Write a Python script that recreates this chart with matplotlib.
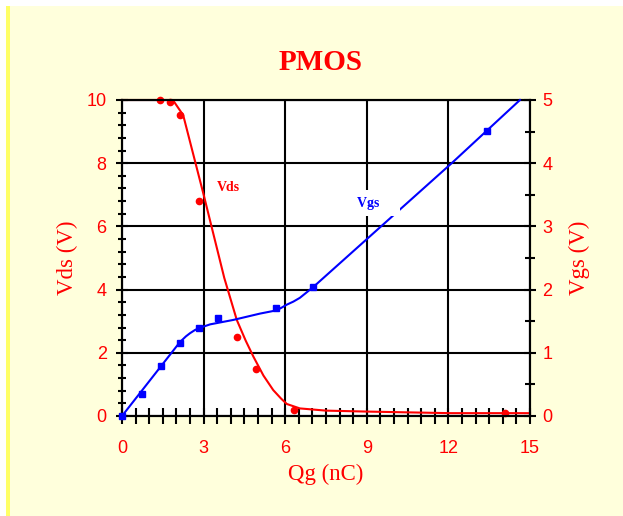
import matplotlib
matplotlib.use("Agg")
import matplotlib.pyplot as plt
from matplotlib.patches import Rectangle
from matplotlib.ticker import MultipleLocator

# ---- data ----
qg_vds_pts = [1.40, 1.76, 2.13, 2.83, 4.22, 4.91, 6.34, 14.08]
vds_pts = [10.0, 9.94, 9.52, 6.80, 2.49, 1.49, 0.19, 0.09]

qg_vgs_pts = [0.0, 0.72, 1.42, 2.13, 2.83, 3.52, 5.66, 7.03, 13.41]
vgs_pts = [0.0, 0.35, 0.79, 1.16, 1.39, 1.55, 1.71, 2.04, 4.51]

qg_vds_fit = [0, 1.87, 2.25, 3.02, 3.76, 4.22, 4.55, 4.83, 5.2, 5.56, 5.85, 6.06, 6.54, 7.5, 9.0, 12.06, 15]
vds_fit = [10, 10, 9.52, 6.94, 4.37, 3.04, 2.38, 1.88, 1.28, 0.82, 0.55, 0.38, 0.24, 0.17, 0.14, 0.09, 0.09]

qg_vgs_fit = [0, 2.13, 2.35, 2.5, 2.68, 2.83, 3.24, 4.09, 5.07, 5.66, 5.85, 6.05, 6.3, 6.54, 7.03, 12.12, 14.63]
vgs_fit = [0, 1.17, 1.26, 1.31, 1.36, 1.39, 1.45, 1.52, 1.62, 1.67, 1.71, 1.76, 1.81, 1.87, 2.04, 4.0, 5.0]

x_ticks = [0, 3, 6, 9, 12, 15]
vds_ticks = [0, 2, 4, 6, 8, 10]
vgs_ticks = [0, 1, 2, 3, 4, 5]

RED = "#FF0000"
BLUE = "#0000FF"
SANS = "Liberation Sans"
SERIF = "Liberation Serif"

W, H = 623, 516
fig = plt.figure(figsize=(W / 100, H / 100), dpi=100, facecolor="white")

# background panel
fig.patches.append(Rectangle((6 / W, 0), 1 - 6 / W, 1 - 6 / H, transform=fig.transFigure,
                             facecolor="#FFFFDC", edgecolor="none", zorder=-10))
fig.patches.append(Rectangle((6 / W, 0), 3.5 / W, 1 - 6 / H, transform=fig.transFigure,
                             facecolor="#FFFF66", edgecolor="none", zorder=-9))

ax = fig.add_axes([122 / W, (H - 416) / H, (530 - 122) / W, (416 - 100) / H])
ax.set_facecolor("white")
ax.set_xlim(0, 15)
ax.set_ylim(0, 10)
ax.set_xticks(x_ticks)
ax.set_yticks(vds_ticks)
ax.xaxis.set_minor_locator(MultipleLocator(0.5))
ax.yaxis.set_minor_locator(MultipleLocator(0.4))
ax.grid(True, which="major", color="black", linewidth=1.5)
ax.set_axisbelow(True)
for s in ax.spines.values():
    s.set_color("black")
    s.set_linewidth(1.5)

ax.tick_params(axis="x", which="major", direction="inout", length=12, width=1.5,
               colors="black", labelcolor=RED, labelsize=13, pad=11)
ax.tick_params(axis="x", which="minor", direction="inout", length=11, width=1.5, colors="black")
ax.tick_params(axis="y", which="major", direction="inout", length=8, width=1.5,
               colors="black", labelcolor=RED, labelsize=13, pad=7)
ax.tick_params(axis="y", which="minor", direction="inout", length=6, width=1.5, colors="black")
for lab in ax.get_xticklabels() + ax.get_yticklabels():
    lab.set_family(SANS)

ax.plot(qg_vds_fit, vds_fit, color=RED, linewidth=1.5, clip_on=False, zorder=3)
ax.plot(qg_vds_pts, vds_pts, "o", color=RED, markersize=4.5, clip_on=False, zorder=4)

ax.set_xlabel("Qg (nC)", color=RED, fontsize=16.5, family=SERIF, labelpad=5)
ax.set_ylabel("Vds (V)", color=RED, fontsize=16.5, family=SERIF, labelpad=6)
ax.text(3.93, 7.22, "Vds", color=RED, fontsize=10, family=SERIF, fontweight="bold",
        ha="center", va="center", zorder=5)

ax2 = ax.twinx()
ax2.set_ylim(0, 5)
ax2.set_yticks(vgs_ticks)
ax2.yaxis.set_minor_locator(MultipleLocator(0.5))
for s in ax2.spines.values():
    s.set_color("black")
    s.set_linewidth(1.5)
ax2.tick_params(axis="y", which="major", direction="inout", length=8, width=1.5,
                colors="black", labelcolor=RED, labelsize=13, pad=5)
ax2.tick_params(axis="y", which="minor", direction="inout", length=7, width=1.5, colors="black")
for lab in ax2.get_yticklabels():
    lab.set_family(SANS)
ax2.set_ylabel("Vgs (V)", color=RED, fontsize=16.5, family=SERIF, labelpad=12)

ax2.plot(qg_vgs_fit, vgs_fit, color=BLUE, linewidth=1.5, clip_on=False, zorder=3)
ax2.plot(qg_vgs_pts, vgs_pts, "s", color=BLUE, markersize=5, clip_on=False, zorder=4)
ax2.text(8.65, 3.37, "Vgs    ", color=BLUE, fontsize=10, family=SERIF, fontweight="bold",
         ha="left", va="center", zorder=5,
         bbox=dict(boxstyle="square,pad=0.45", facecolor="white", edgecolor="none"))

fig.text(321 / W, 1 - 63 / H, "PMOS", color=RED, fontsize=21, family=SERIF,
         fontweight="bold", ha="center", va="center")

fig.savefig("out.png", dpi=100, facecolor=fig.get_facecolor())
